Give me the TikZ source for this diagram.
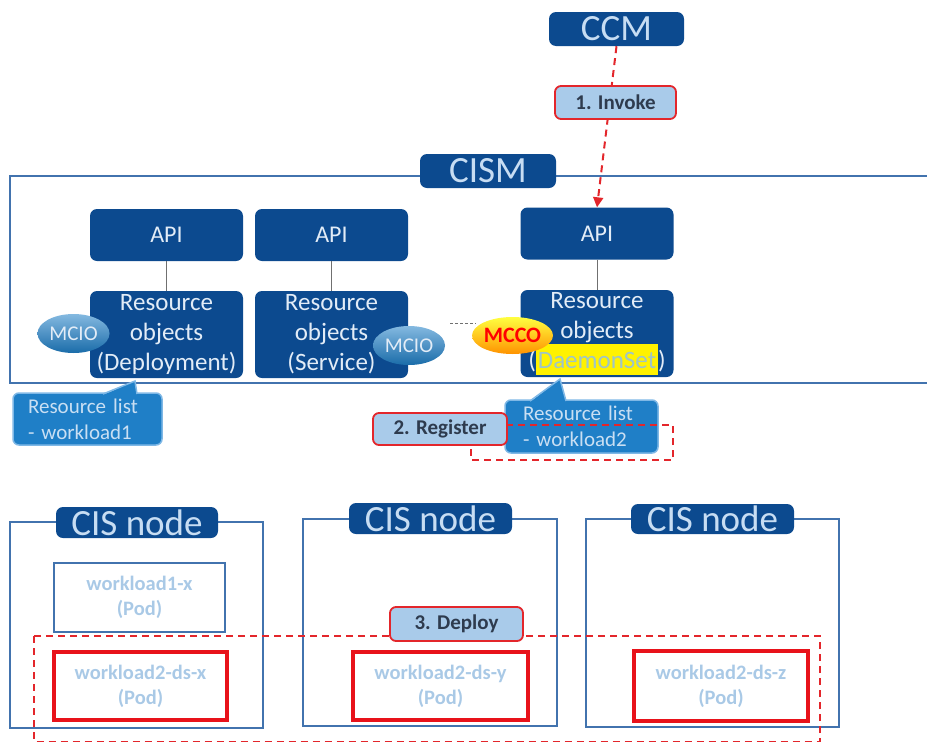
\documentclass[tikz,border=0pt]{standalone}
\usepackage{fontspec}
\setmainfont{Carlito}
\usetikzlibrary{arrows.meta,shapes.geometric}
\definecolor{dblue}{HTML}{0C4A8F}
\definecolor{frameblue}{HTML}{4273AE}
\definecolor{lblue}{HTML}{A9CBEA}
\definecolor{redc}{HTML}{E3262B}
\definecolor{podred}{HTML}{E8121A}
\definecolor{podtext}{HTML}{A9C9E6}
\definecolor{rlfill}{HTML}{1F7FC7}
\definecolor{rlborder}{HTML}{7FB8E6}
\definecolor{lighttext}{HTML}{E2ECF7}
\definecolor{titletext}{HTML}{C7DDF3}
\definecolor{rltext}{HTML}{C9DFF3}
\definecolor{dstext}{HTML}{9EC5C8}
\definecolor{stepgray}{HTML}{2E3B4E}
\definecolor{conngray}{HTML}{707070}
\newcommand{\dshl}[1]{{\setlength{\fboxsep}{2pt}\colorbox{yellow}{\rule[-5pt]{0pt}{27pt}\textcolor{dstext}{#1}}}}
\begin{document}
\begin{tikzpicture}[x=1pt,y=-1pt,
  dbox/.style={fill=dblue, rounded corners=7pt, inner sep=0pt, text=lighttext, align=center},
  titlebox/.style={dbox, font=\fontsize{37}{40}\selectfont, text=titletext},
  apibox/.style={dbox, minimum width=153pt, minimum height=52pt, font=\fontsize{24}{28}\selectfont},
  robox/.style={dbox, minimum width=153pt, minimum height=87pt, font=\fontsize{25}{30}\selectfont},
  steplbl/.style={fill=lblue, draw=redc, line width=1.8pt, rounded corners=6pt, inner sep=0pt,
    font=\bfseries\fontsize{21}{24}\selectfont, text=stepgray},
  reddash/.style={draw=redc, line width=2pt, dash pattern=on 7pt off 5pt},
  mcio/.style={ellipse, top color=rlfill!55!white, bottom color=rlfill!85!black, inner sep=0pt,
    minimum width=72pt, minimum height=39pt, text=lighttext, font=\fontsize{21}{22}\selectfont},
  rlist/.style={fill=rlfill, draw=rlborder, line width=1.5pt, rounded corners=6pt, align=left,
    inner ysep=0pt, text=rltext, font=\fontsize{21}{26}\selectfont},
  cisframe/.style={draw=frameblue, line width=2pt, inner sep=0pt},
  podbox/.style={inner sep=0pt, align=center, text=podtext, font=\bfseries\fontsize{20.5}{25}\selectfont},
  conn/.style={draw=conngray, line width=1pt}
]
\useasboundingbox (0,0) rectangle (927,742);

% CISM frame
\node[cisframe, minimum width=950pt, minimum height=207pt] (cismframe) at (485,279.5) {};
\node[titlebox, minimum width=136pt, minimum height=34pt] (cism) at (488,171) {CISM};

% API and resource objects
\node[apibox] (api1) at (166.5,235) {API};
\node[apibox] (api2) at (331.5,235) {API};
\node[apibox] (api3) at (597,233.5) {API};
\node[robox] (ro1) at (166.5,334.5) {Resource\\objects\\(Deployment)};
\node[robox] (ro2) at (331.5,334.5) {Resource\\objects\\(Service)};
\node[robox] (ro3) at (597,333.5) {Resource\\objects\\(\dshl{DaemonSet})};
\draw[conn] (api1) -- (ro1);
\draw[conn] (api2) -- (ro2);
\draw[conn] (api3) -- (ro3);

% ellipses
\node[mcio] (mcio1) at (73.5,333.5) {MCIO};
\node[mcio] (mcio2) at (409,345.5) {MCIO};
\node[ellipse, top color=yellow!75!white, bottom color=orange!85!yellow, inner sep=0pt,
  minimum width=71pt, minimum height=37pt, text=red, font=\bfseries\fontsize{22}{24}\selectfont]
  (mcco) at (512.5,335.5) {MCCO};
\coordinate (dotsA) at (450,323);
\coordinate (dotsB) at (476,323);
\draw[conngray, line width=1pt, dash pattern=on 3pt off 2pt] (dotsA) -- (dotsB);

% resource list callouts
\node[rlist, inner xsep=15pt, text width=119pt, minimum height=52pt] (rl1) at (87.5,419) {Resource list\\- workload1};
\fill[rlfill] (103,395) -- (135,381) -- (137,395) -- cycle;
\draw[rlborder, line width=1.5pt] (103,394) -- (135,381) -- (137,394);
\node[rlist, inner xsep=18pt, text width=117pt, minimum height=53pt] (rl2) at (581.5,426.5) {Resource list\\- workload2};
\fill[rlfill] (530,402) -- (560,379) -- (566,402) -- cycle;
\draw[rlborder, line width=1.5pt] (530,401) -- (560,379) -- (566,401);

% register
\coordinate (regA) at (471,425);
\coordinate (regB) at (673,460);
\draw[reddash] (regA) rectangle (regB);
\node[steplbl, minimum width=134pt, minimum height=32pt] (register) at (440,429) {2. Register};

% CCM and invoke
\node[titlebox, minimum width=135pt, minimum height=34pt] (ccm) at (616.5,29) {CCM};
\draw[reddash, -{Triangle[length=10pt,width=10pt]}] (ccm.south) -- (api3.north);
\node[steplbl, minimum width=121pt, minimum height=33pt] (invoke) at (615.5,102.5) {1. Invoke};

% CIS nodes
\node[cisframe, minimum width=253pt, minimum height=206pt] (cis1) at (136.5,625) {};
\node[cisframe, minimum width=254pt, minimum height=207pt] (cis2) at (430,622.5) {};
\node[cisframe, minimum width=253pt, minimum height=208pt] (cis3) at (712.5,623) {};
\node[titlebox, minimum width=162pt, minimum height=31pt] (cisl1) at (137,522.5) {CIS node};
\node[titlebox, minimum width=163pt, minimum height=31pt] (cisl2) at (430.5,518.5) {CIS node};
\node[titlebox, minimum width=163pt, minimum height=30pt] (cisl3) at (712.5,519) {CIS node};

% pods
\node[podbox, draw=frameblue, line width=2pt, minimum width=171pt, minimum height=69pt] (w1x) at (139.5,597.5) {workload1-x\\(Pod)};
\node[podbox, draw=podred, line width=4.5pt, minimum width=173pt, minimum height=68pt] (w2x) at (140.5,686) {workload2-ds-x\\(Pod)};
\node[podbox, draw=podred, line width=4.5pt, minimum width=175pt, minimum height=68pt] (w2y) at (440.5,686) {workload2-ds-y\\(Pod)};
\node[podbox, draw=podred, line width=4.5pt, minimum width=174pt, minimum height=70pt] (w2z) at (721,686) {workload2-ds-z\\(Pod)};

% deploy
\coordinate (depA) at (34,636);
\coordinate (depB) at (820,741.5);
\draw[reddash] (depA) rectangle (depB);
\node[steplbl, minimum width=133pt, minimum height=34pt] (deploy) at (456.5,624) {3. Deploy};
\end{tikzpicture}
\end{document}
